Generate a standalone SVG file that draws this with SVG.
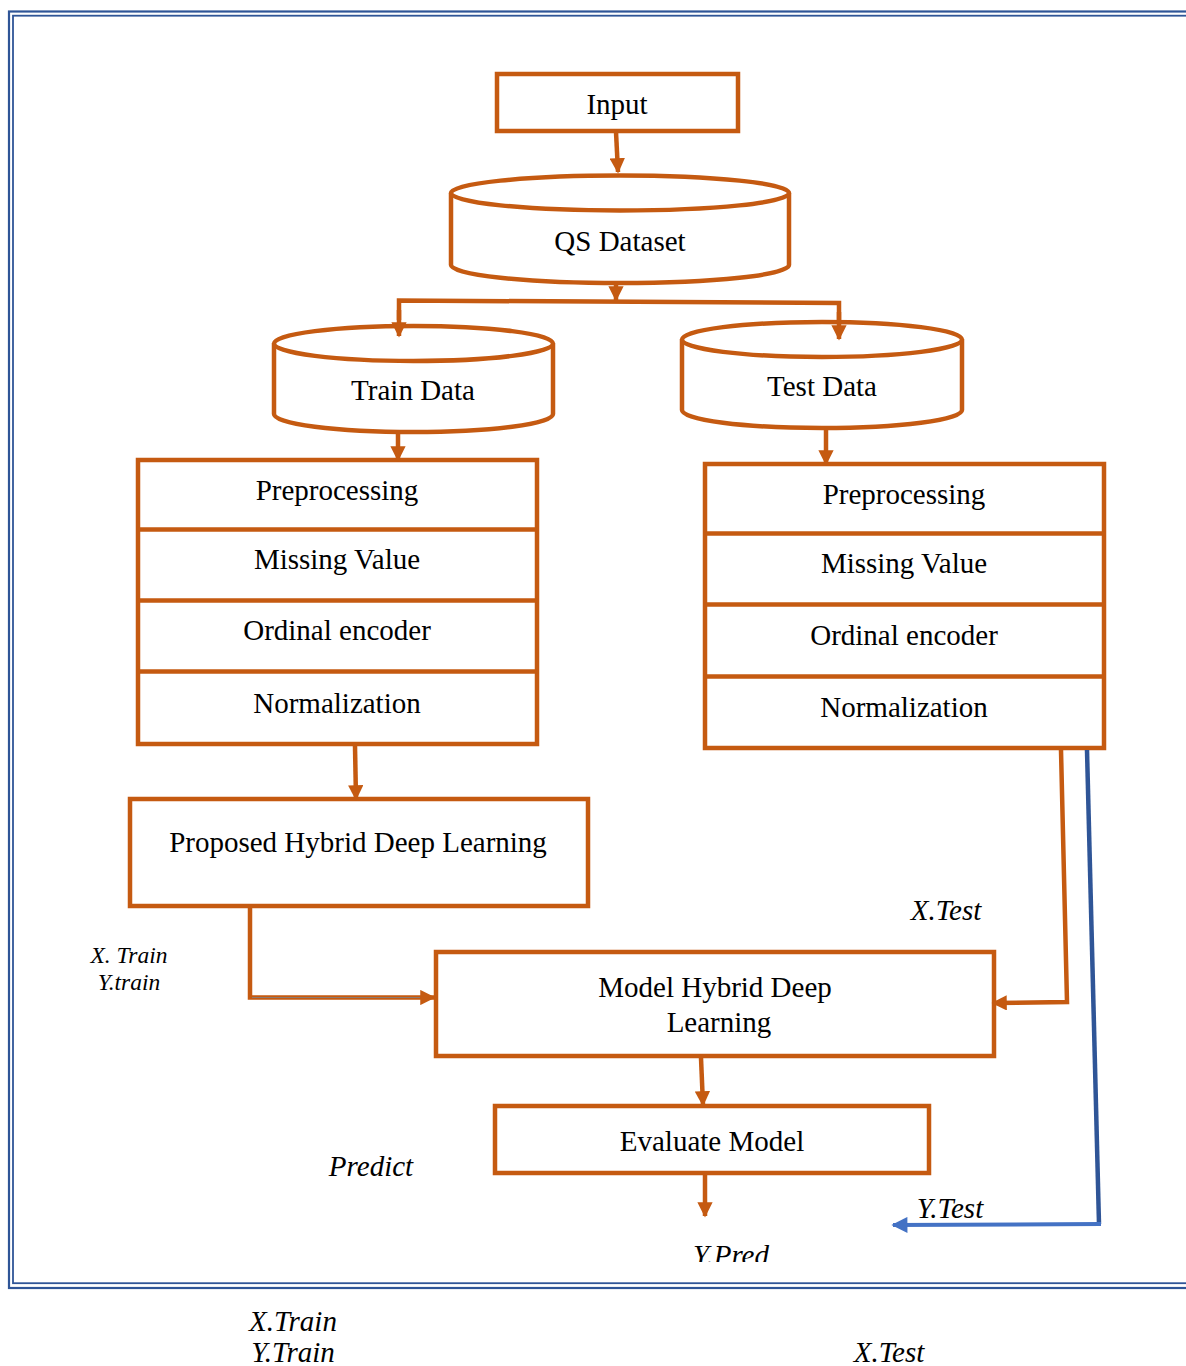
<svg xmlns="http://www.w3.org/2000/svg" width="1186" height="1366" viewBox="0 0 1186 1366">
<style>
.box{fill:#fff;stroke:#C55A11;stroke-width:4.5}
.ln{fill:none;stroke:#C55A11;stroke-width:4.5}
.t{font-family:"Liberation Serif","Times New Roman",serif;font-size:29px;fill:#000;text-anchor:middle}
.i{font-family:"Liberation Serif","Times New Roman",serif;font-size:29px;font-style:italic;fill:#000;text-anchor:middle}
.s{font-size:23.5px}
</style>
<defs>
<marker id="ah" viewBox="0 0 10 10" refX="9" refY="5" markerWidth="3.5" markerHeight="3.4" orient="auto" markerUnits="strokeWidth">
<path d="M0,0 L10,5 L0,10 z" fill="#C55A11"/>
</marker>
<marker id="ahb" viewBox="0 0 10 10" refX="9" refY="5" markerWidth="4.2" markerHeight="4" orient="auto" markerUnits="strokeWidth">
<path d="M0,0 L10,5 L0,10 z" fill="#4472C4"/>
</marker>
<clipPath id="clipB"><rect x="0" y="0" width="1186" height="1262"/></clipPath>
</defs>

<g id="frame" fill="none">
<rect x="9" y="11.5" width="1200" height="1276.5" stroke="#2F5597" stroke-width="2.2"/>
<rect x="13" y="15.7" width="1200" height="1267.5" stroke="#2F5597" stroke-width="1.8"/>
</g>

<g id="input">
<rect class="box" x="497" y="74" width="241" height="57"/>
<text class="t" x="617" y="114">Input</text>
</g>

<g id="qs-dataset">
<path class="box" d="M451,193 L451,265 A169,18 0 0 0 789,265 L789,193"/>
<ellipse class="box" cx="620" cy="193" rx="169" ry="17.5"/>
<text class="t" x="620" y="251">QS Dataset</text>
</g>

<g id="train-data">
<path class="box" d="M274,343.5 L274,414 A139.5,18 0 0 0 553,414 L553,343.5"/>
<ellipse class="box" cx="413.5" cy="343.5" rx="139.5" ry="17.5"/>
<text class="t" x="413" y="400">Train Data</text>
</g>

<g id="test-data">
<path class="box" d="M682,339.5 L682,410 A140,18 0 0 0 962,410 L962,339.5"/>
<ellipse class="box" cx="822" cy="339.5" rx="140" ry="17.5"/>
<text class="t" x="822" y="396">Test Data</text>
</g>

<g id="train-preprocessing">
<rect class="box" x="138" y="460" width="399" height="284"/>
<line class="ln" x1="138" y1="529.5" x2="537" y2="529.5" stroke-width="6"/>
<line class="ln" x1="138" y1="600.5" x2="537" y2="600.5" stroke-width="6"/>
<line class="ln" x1="138" y1="671.5" x2="537" y2="671.5" stroke-width="6"/>
<text class="t" x="337" y="500">Preprocessing</text>
<text class="t" x="337" y="569">Missing Value</text>
<text class="t" x="337" y="640">Ordinal encoder</text>
<text class="t" x="337" y="713">Normalization</text>
</g>

<g id="test-preprocessing">
<rect class="box" x="705" y="464" width="399" height="284"/>
<line class="ln" x1="705" y1="533.5" x2="1104" y2="533.5" stroke-width="6"/>
<line class="ln" x1="705" y1="604.5" x2="1104" y2="604.5" stroke-width="6"/>
<line class="ln" x1="705" y1="676.5" x2="1104" y2="676.5" stroke-width="6"/>
<text class="t" x="904" y="504">Preprocessing</text>
<text class="t" x="904" y="573">Missing Value</text>
<text class="t" x="904" y="645">Ordinal encoder</text>
<text class="t" x="904" y="717">Normalization</text>
</g>

<g id="proposed">
<rect class="box" x="130" y="799" width="458" height="107"/>
<text class="t" x="358" y="852">Proposed Hybrid Deep Learning</text>
</g>

<g id="model">
<rect class="box" x="436" y="952" width="558" height="104"/>
<text class="t" x="715" y="997">Model Hybrid Deep</text>
<text class="t" x="719" y="1032">Learning</text>
</g>

<g id="evaluate">
<rect class="box" x="495" y="1106" width="434" height="67"/>
<text class="t" x="712" y="1151">Evaluate Model</text>
</g>

<g id="connectors">
<line class="ln" x1="616" y1="132" x2="618" y2="172" marker-end="url(#ah)"/>
<line class="ln" x1="616" y1="284" x2="616" y2="300" marker-end="url(#ah)"/>
<polyline class="ln" points="399,320 399,300.5 839,303 839,320"/>
<line class="ln" x1="399" y1="310" x2="399" y2="336" marker-end="url(#ah)"/>
<line class="ln" x1="839" y1="312" x2="839" y2="339" marker-end="url(#ah)"/>
<line class="ln" x1="398" y1="434" x2="398" y2="460" marker-end="url(#ah)"/>
<line class="ln" x1="826" y1="430" x2="826" y2="464" marker-end="url(#ah)"/>
<line class="ln" x1="355" y1="746" x2="356" y2="799" marker-end="url(#ah)"/>
<polyline class="ln" points="250,908 250,997.5 434,997.5" marker-end="url(#ah)"/>
<line x1="252" y1="997.5" x2="420" y2="997.5" stroke="#8C7A70" stroke-width="1"/>
<polyline class="ln" points="1061,750 1067,1002 993,1003" marker-end="url(#ah)"/>
<line class="ln" x1="701" y1="1058" x2="703" y2="1105" marker-end="url(#ah)"/>
<line class="ln" x1="705" y1="1175" x2="705" y2="1216" marker-end="url(#ah)"/>
<polyline points="1087,750 1099,1224" fill="none" stroke="#2F5597" stroke-width="4.5"/>
<polyline points="1101,1224 893,1225" fill="none" stroke="#4472C4" stroke-width="4" marker-end="url(#ahb)"/>
</g>

<g id="labels">
<text class="i" x="946" y="920">X.Test</text>
<text class="i s" x="129" y="963">X. Train</text>
<text class="i s" x="129" y="990">Y.train</text>
<text class="i" x="371" y="1176">Predict</text>
<text class="i" x="950" y="1218">Y.Test</text>
<text class="i" x="731" y="1265" clip-path="url(#clipB)">Y.Pred</text>
<text class="i" x="293" y="1331">X.Train</text>
<text class="i" x="293" y="1362">Y.Train</text>
<text class="i" x="889" y="1362">X.Test</text>
</g>
</svg>
